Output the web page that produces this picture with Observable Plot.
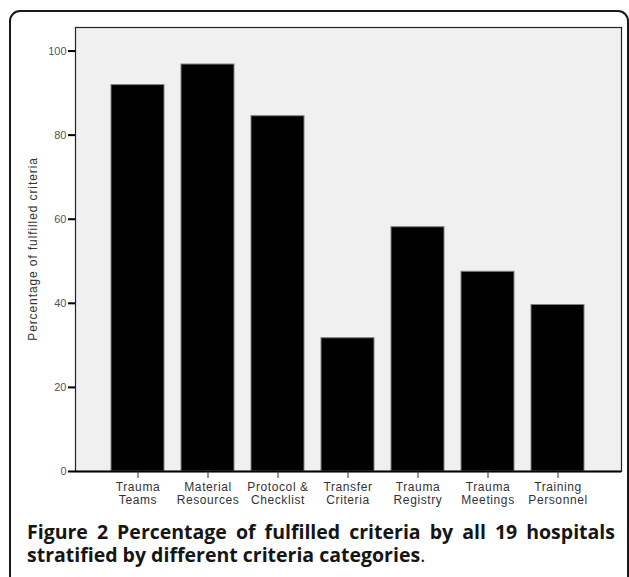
<!DOCTYPE html>
<html>
<head>
<meta charset="utf-8">
<script src="https://cdn.jsdelivr.net/npm/d3@7"></script>
<script src="https://cdn.jsdelivr.net/npm/@observablehq/plot@0.6"></script>
<style>
  html, body { margin: 0; padding: 0; background: #fff; }
  body { width: 629px; height: 577px; overflow: hidden; position: relative; font-family: "Liberation Sans", Arial, sans-serif; }
  #box { position: absolute; left: 9px; top: 10px; width: 620px; height: 640px; border: 2px solid #1a1a1a; border-radius: 11px; box-sizing: border-box; }
  #chart { position: absolute; left: 0; top: 0; }
  #ylabel { position: absolute; left: 33px; top: 249px; transform: translate(-50%, -50%) rotate(-90deg); white-space: nowrap; font-size: 12px; letter-spacing: 0.9px; color: #333; }
  .cap { position: absolute; left: 27px; width: 588px; font-family: "Open Sans", sans-serif; font-size: 19.5px; line-height: 22px; font-weight: 700; color: #151515; white-space: nowrap; }
  #cap1 { top: 521px; text-align: justify; text-align-last: justify; }
  #cap2 { top: 544px; }
  .normal { font-weight: 400; }
  svg g[aria-label="x-axis tick label"] text { letter-spacing: 0.6px; }
</style>
</head>
<body>
<div id="box"></div>
<div id="chart"></div>
<div id="ylabel">Percentage of fulfilled criteria</div>
<div class="cap" id="cap1">Figure 2 Percentage of fulfilled criteria by all 19 hospitals</div>
<div class="cap" id="cap2">stratified by different criteria categories<span class="normal">.</span></div>
<script>
const categories = ["Trauma Teams", "Material Resources", "Protocol & Checklist", "Transfer Criteria", "Trauma Registry", "Trauma Meetings", "Training Personnel"];
const tickLabels = ["Trauma\nTeams", "Material\nResources", "Protocol &\nChecklist", "Transfer\nCriteria", "Trauma\nRegistry", "Trauma\nMeetings", "Training\nPersonnel"];
const values = [91.9, 96.8, 84.5, 31.7, 58.1, 47.5, 39.6];
const yTicks = [0, 20, 40, 60, 80, 100];

const data = categories.map((c, i) => ({category: c, value: values[i]}));
const labelOf = new Map(categories.map((c, i) => [c, tickLabels[i]]));

const chart = Plot.plot({
  width: 629,
  height: 512,
  marginLeft: 75,
  marginRight: 8,
  marginTop: 27,
  marginBottom: 41,
  style: {fontFamily: "Liberation Sans, Arial, sans-serif", background: "transparent", overflow: "visible"},
  x: {domain: categories, paddingInner: 0.236, paddingOuter: 0.51, label: null},
  y: {domain: [0, 105.6], label: null},
  marks: [
    Plot.frame({fill: "#f0f0f0", stroke: "#222", strokeWidth: 1.2}),
    Plot.barY(data, {x: "category", y: "value", fill: "black", stroke: "#808080", strokeWidth: 1}),
    Plot.ruleY([0], {stroke: "black", strokeWidth: 2}),
    Plot.axisY({ticks: yTicks, tickSize: 7, tickPadding: 2, strokeWidth: 2, stroke: "black", fill: "#555", fontSize: 11, label: null}),
    Plot.axisX({tickSize: 7, tickPadding: 3, stroke: "#333", fill: "#333", fontSize: 12, lineHeight: 1.1, tickFormat: d => labelOf.get(d), label: null})
  ]
});
document.getElementById("chart").appendChild(chart);
</script>
</body>
</html>
